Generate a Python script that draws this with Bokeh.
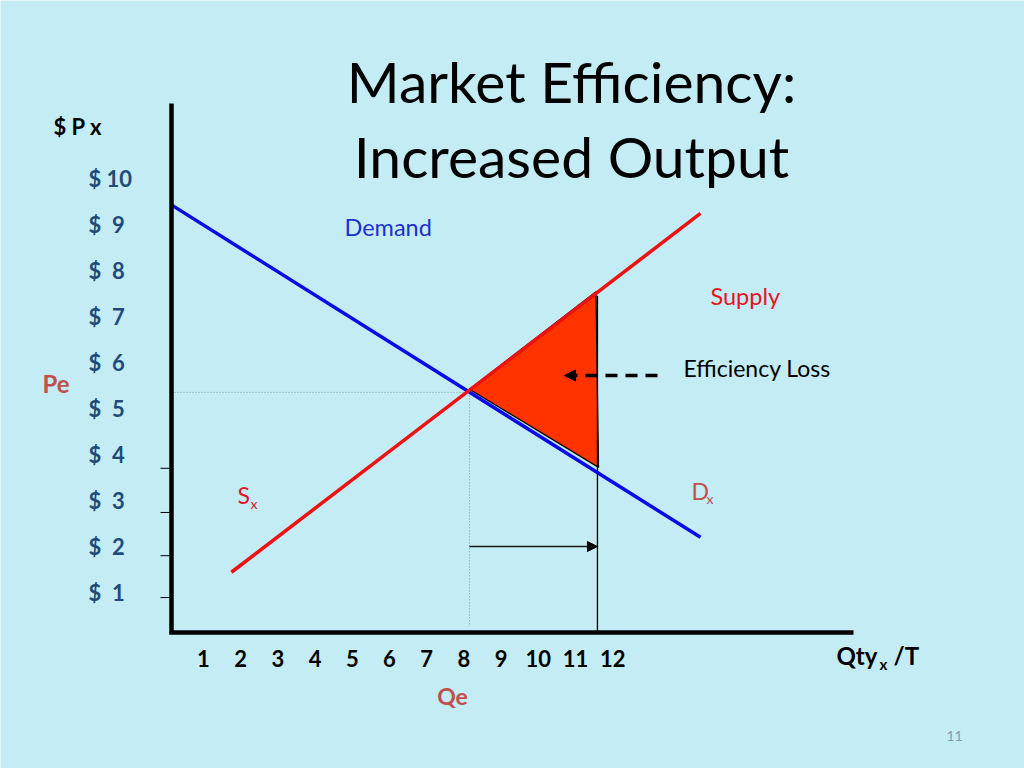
from bokeh.plotting import figure
from bokeh.models import Range1d, Arrow, NormalHead
from bokeh.core.properties import value
from bokeh.embed import file_html
from bokeh.resources import INLINE

# ---------------- data ----------------
title_lines = ["Market Efficiency:", "Increased Output"]
price_ticks = [10, 9, 8, 7, 6, 5, 4, 3, 2, 1]
price_labels = ["$ 10"] + ["$\u00a0\u00a0" + str(v) for v in price_ticks[1:]]
qty_ticks = [1, 2, 3, 4, 5, 6, 7, 8, 9, 10, 11, 12]
qty_labels = [str(v) for v in qty_ticks]

demand_q = [0.17, 14.36]
demand_p = [9.41, 2.20]
supply_q = [1.75, 14.36]
supply_p = [1.44, 9.24]

Qe = 8.15          # equilibrium quantity
Pe = 5.35          # equilibrium price
Q2 = 11.59         # increased output
loss_q = [8.15, 11.55, 11.62]   # efficiency-loss triangle
loss_p = [5.42, 7.54, 3.72]

# ---------------- layout helpers (screen px -> data units) ----------------
def qx(px):
    return 1 + (px - 203) / 37.2

def py(pyv):
    return 1 + (592 - pyv) / 46

BG = "#c3ecf4"
FONT = value("Lato")

p = figure(width=1024, height=768, output_backend="svg", toolbar_location=None,
           x_range=Range1d(qx(0), qx(1024)), y_range=Range1d(py(768), py(0)),
           min_border=0, background_fill_color=BG, border_fill_color=BG,
           outline_line_color=None)
p.xaxis.visible = False
p.yaxis.visible = False
p.grid.visible = False

ax_q0, ax_p0 = qx(171), py(632)
ax_q1, ax_p1 = qx(853), py(103)

# dotted guide lines
p.line([ax_q0, Qe], [Pe, Pe], line_color="#7d9aa6", line_width=1, line_dash="1 2")
p.line([Qe, Qe], [Pe, py(625)], line_color="#7d9aa6", line_width=1, line_dash="1 2")

# efficiency loss triangle
p.patch(loss_q, loss_p, fill_color="#ff3300", line_color="black", line_width=1.2)

# vertical line at increased output
p.line([Q2, Q2], [7.45, ax_p0], line_color="black", line_width=1.3)

# supply and demand curves
p.line(demand_q, demand_p, line_color="#0a0ae6", line_width=3.5)
p.line(supply_q, supply_p, line_color="#ee1111", line_width=3.5)

# axes
p.line([ax_q0, ax_q0, ax_q1], [ax_p1, ax_p0, ax_p0], line_color="black", line_width=4.5,
       line_join="miter")
small_ticks = [3.70, 2.74, 1.80, 0.89]
p.segment(x0=[qx(160)] * 4, y0=small_ticks, x1=[ax_q0] * 4, y1=small_ticks,
          line_color="black", line_width=1)

# arrow for output increase
p.add_layout(Arrow(end=NormalHead(size=10, fill_color="black", line_color="black"),
                   x_start=Qe, y_start=2.0, x_end=Q2, y_end=2.0,
                   line_color="#1a1a1a", line_width=1.6))

# dashed arrow pointing at the triangle
p.add_layout(Arrow(end=NormalHead(size=11, fill_color="black", line_color="black"),
                   x_start=qx(657), y_start=py(375), x_end=qx(564), y_end=py(375),
                   line_color="black", line_width=3.5, line_dash="12 8"))

# title
p.text(x=[qx(571)] * 2, y=[py(80), py(155)], text=title_lines, text_font=FONT,
       text_font_size="57px", text_align="center", text_baseline="middle",
       text_color="black")

# y tick labels
p.text(x=[qx(88)] * len(price_ticks), y=price_ticks, text=price_labels, text_font=FONT,
       text_font_size="22px", text_font_style="bold", text_align="left",
       text_baseline="middle", text_color="#1f4b7a")
p.text(x=[qx(53)], y=[py(126)], text=["$ P x"], text_font=FONT, text_font_size="22px",
       text_font_style="bold", text_align="left", text_baseline="middle", text_color="black")
p.text(x=[qx(42)], y=[py(383)], text=["Pe"], text_font=FONT, text_font_size="24px",
       text_font_style="bold", text_align="left", text_baseline="middle", text_color="#c0504d")

# x tick labels
p.text(x=qty_ticks, y=[py(658)] * len(qty_ticks), text=qty_labels, text_font=FONT,
       text_font_size="22px", text_font_style="bold", text_align="center",
       text_baseline="middle", text_color="black")
p.text(x=[qx(452)], y=[py(695)], text=["Qe"], text_font=FONT, text_font_size="23px",
       text_font_style="bold", text_align="center", text_baseline="middle", text_color="#c0504d")

# x axis title Qty_x /T
p.text(x=[qx(836)], y=[py(655)], text=["Qty"], text_font=FONT, text_font_size="24px",
       text_font_style="bold", text_align="left", text_baseline="middle", text_color="black")
p.text(x=[qx(879)], y=[py(663)], text=["x"], text_font=FONT, text_font_size="15px",
       text_font_style="bold", text_align="left", text_baseline="middle", text_color="black")
p.text(x=[qx(893)], y=[py(655)], text=["/T"], text_font=FONT, text_font_size="24px",
       text_font_style="bold", text_align="left", text_baseline="middle", text_color="black")

# curve labels
p.text(x=[qx(344)], y=[py(226)], text=["Demand"], text_font=FONT, text_font_size="23.5px",
       text_align="left", text_baseline="middle", text_color="#1f2fd0")
p.text(x=[qx(710)], y=[py(295)], text=["Supply"], text_font=FONT, text_font_size="23.5px",
       text_align="left", text_baseline="middle", text_color="#e8141c")
p.text(x=[qx(683)], y=[py(367)], text=["Efficiency Loss"], text_font=FONT,
       text_font_size="23px", text_align="left", text_baseline="middle", text_color="black")

p.text(x=[qx(237)], y=[py(494)], text=["S"], text_font=FONT, text_font_size="23px",
       text_align="left", text_baseline="middle", text_color="#e8141c")
p.text(x=[qx(250)], y=[py(503)], text=["x"], text_font=FONT, text_font_size="14px",
       text_align="left", text_baseline="middle", text_color="#e8141c")
p.text(x=[qx(691)], y=[py(490)], text=["D"], text_font=FONT, text_font_size="23px",
       text_align="left", text_baseline="middle", text_color="#c0504d")
p.text(x=[qx(706)], y=[py(498)], text=["x"], text_font=FONT, text_font_size="14px",
       text_align="left", text_baseline="middle", text_color="#c0504d")

# slide number
p.text(x=[qx(946)], y=[py(735)], text=["11"], text_font=FONT, text_font_size="14px",
       text_align="left", text_baseline="middle", text_color="#8a9ba3")

open("out.html", "w").write(file_html(p, INLINE))
